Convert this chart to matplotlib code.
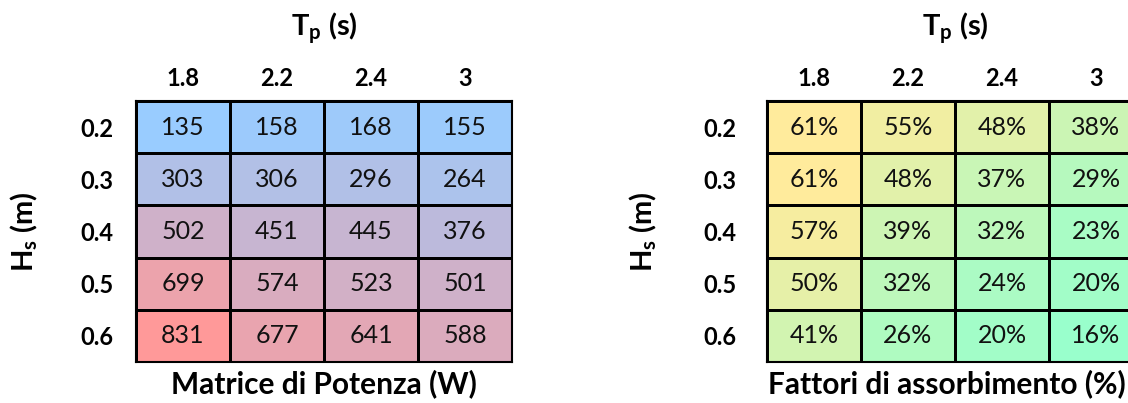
import numpy as np
import matplotlib.pyplot as plt
from matplotlib.colors import LinearSegmentedColormap

plt.rcParams['font.family'] = ['Lato', 'DejaVu Sans']
plt.rcParams['mathtext.fontset'] = 'custom'
plt.rcParams['mathtext.rm'] = 'Lato'
plt.rcParams['mathtext.bf'] = 'Lato:bold'

tp_labels = ["1.8", "2.2", "2.4", "3"]
hs_labels = ["0.2", "0.3", "0.4", "0.5", "0.6"]

# power matrix, W (rows: Hs, cols: Tp)
power = np.array([
    [135, 158, 168, 155],
    [303, 306, 296, 264],
    [502, 451, 445, 376],
    [699, 574, 523, 501],
    [831, 677, 641, 588],
])

# absorption factors, %
absorb = np.array([
    [61, 55, 48, 38],
    [61, 48, 37, 29],
    [57, 39, 32, 23],
    [50, 32, 24, 20],
    [41, 26, 20, 16],
])

cmap_power = LinearSegmentedColormap.from_list("pw", ["#99ccff", "#ff9999"])
cmap_abs = LinearSegmentedColormap.from_list("ab", ["#99ffcc", "#ffeb9c"])

W, H = 1128, 403
fig = plt.figure(figsize=(W / 100, H / 100), dpi=100)


def matrix(left_px, data, cmap, fmt, bottom_title, title_x, ypad, ylabelpad):
    ax = fig.add_axes([left_px / W, 1 - 362 / H, 376 / W, 261 / H])
    ax.pcolormesh(data, cmap=cmap, edgecolors="black", linewidth=1.0)
    ax.set_xlim(0, 4)
    ax.set_ylim(5, 0)
    for i in range(data.shape[0]):
        for j in range(data.shape[1]):
            ax.text(j + 0.5, i + 0.5, fmt.format(data[i, j]), ha="center", va="center",
                    fontsize=18, color="#111111")
    ax.xaxis.tick_top()
    ax.set_xticks(np.arange(4) + 0.5, tp_labels, fontsize=17, fontweight="bold")
    ax.set_yticks(np.arange(5) + 0.5, hs_labels, fontsize=17, fontweight="bold")
    ax.tick_params(length=0)
    ax.tick_params(axis="x", pad=8)
    ax.tick_params(axis="y", pad=ypad)
    for s in ax.spines.values():
        s.set_linewidth(1.5)
    ax.set_xlabel(bottom_title, fontsize=21.5, fontweight="bold", labelpad=5)
    ax.xaxis.set_label_position("bottom")
    ax.xaxis.label.set_x(title_x)
    ax.set_ylabel(r"$\mathbf{H_s}$ (m)", fontsize=21, fontweight="bold", labelpad=ylabelpad)
    cx = (left_px + 188) / W
    fig.text(cx, 1 - 28 / H, r"$\mathbf{T_p}$ (s)", ha="center", va="center",
             fontsize=21, fontweight="bold")
    return ax


matrix(136, power, cmap_power, "{}", "Matrice di Potenza (W)", 0.5, 16, 29)
matrix(767, absorb, cmap_abs, "{}%", "Fattori di assorbimento (%)", 0.479, 22, 32)

fig.savefig("out.png", dpi=100)
